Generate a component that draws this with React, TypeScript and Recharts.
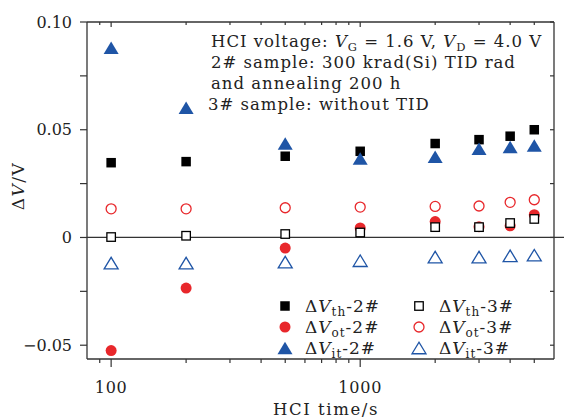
import React from "react"
import { ScatterChart, Scatter, XAxis, YAxis, ReferenceLine } from "recharts"

// HCI stress times (s)
const times = [100, 200, 500, 1000, 2000, 3000, 4000, 5000]

// sample 2# (TID + annealing)
const vth2 = [0.0347, 0.0352, 0.0377, 0.04, 0.0436, 0.0454, 0.047, 0.05]
const vot2 = [-0.0525, -0.0235, -0.0049, 0.0044, 0.0074, 0.005, 0.0054, 0.0106]
const vit2 = [0.088, 0.0602, 0.0436, 0.0366, 0.0375, 0.0412, 0.042, 0.0427]

// sample 3# (no TID)
const vth3 = [0.0002, 0.0008, 0.0016, 0.0023, 0.0048, 0.0048, 0.0067, 0.0086]
const vot3 = [0.0133, 0.0133, 0.0138, 0.0141, 0.0144, 0.0146, 0.0163, 0.0175]
const vit3 = [-0.0119, -0.0119, -0.0114, -0.0108, -0.0091, -0.0091, -0.0085, -0.0082]

const xTicks = [90, 100, 200, 300, 400, 500, 600, 700, 800, 900, 1000, 2000, 3000, 4000, 5000]
const xMajor = [100, 1000]
const yTicks = [-0.05, -0.025, 0, 0.025, 0.05, 0.075, 0.1]
const yLabels: Record<string, string> = { "-0.05": "\u22120.05", "0": "0", "0.05": "0.05", "0.1": "0.10" }

const RED = "#e8272b"
const BLUE = "#1f55a6"
const AXIS = "#333"
const FONT = "DejaVu Serif"

const toPoints = (ys: number[]) => times.map((t, i) => ({ x: t, y: ys[i] }))

type Kind = "square" | "circle" | "triangle"

function Marker({ cx, cy, kind, color, filled }: { cx: number; cy: number; kind: Kind; color: string; filled: boolean }) {
  const fill = filled ? color : "#fff"
  const sw = filled ? 0 : 1.3
  if (kind === "square") {
    const s = filled ? 9.5 : 8.5
    return <rect x={cx - s / 2} y={cy - s / 2} width={s} height={s} fill={fill} stroke={color} strokeWidth={sw} />
  }
  if (kind === "circle") {
    return <circle cx={cx} cy={cy} r={filled ? 5.5 : 5} fill={fill} stroke={color} strokeWidth={sw} />
  }
  const w = filled ? 15 : 14
  const h = filled ? 12.5 : 11.5
  return (
    <polygon
      points={`${cx - w / 2},${cy + h / 2} ${cx + w / 2},${cy + h / 2} ${cx},${cy - h / 2}`}
      fill={fill}
      stroke={color}
      strokeWidth={sw}
    />
  )
}

const shapeOf = (kind: Kind, color: string, filled: boolean) => (p: any) =>
  <Marker cx={p.cx} cy={p.cy} kind={kind} color={color} filled={filled} />

function BottomTick({ x, y, payload }: any) {
  const major = xMajor.includes(payload.value)
  return (
    <g>
      <line x1={x} x2={x} y1={y} y2={y + (major ? 8 : 4)} stroke={AXIS} strokeWidth={1.2} />
      {major && (
        <text x={x} y={y + 34} textAnchor="middle" fontFamily={FONT} fontSize={16} letterSpacing={0.8} fill="#222">
          {payload.value}
        </text>
      )}
    </g>
  )
}

function TopTick({ x, y, payload }: any) {
  const major = xMajor.includes(payload.value)
  return <line x1={x} x2={x} y1={y} y2={y + (major ? 5 : 3)} stroke={AXIS} strokeWidth={1.2} />
}

function LeftTick({ x, y, payload }: any) {
  const label = yLabels[String(payload.value)]
  return (
    <g>
      <line x1={x} x2={x - 7} y1={y} y2={y} stroke={AXIS} strokeWidth={1.2} />
      {label && (
        <text x={x - 15} y={y + 5.5} textAnchor="end" fontFamily={FONT} fontSize={16} fill="#222">
          {label}
        </text>
      )}
    </g>
  )
}

function RightTick({ x, y }: any) {
  return <line x1={x} x2={x - 4} y1={y} y2={y} stroke={AXIS} strokeWidth={1.2} />
}

const legendItems: Array<{ kind: Kind; color: string; filled: boolean; sub: string; tag: string }> = [
  { kind: "square", color: "#000", filled: true, sub: "th", tag: "2#" },
  { kind: "square", color: "#000", filled: false, sub: "th", tag: "3#" },
  { kind: "circle", color: RED, filled: true, sub: "ot", tag: "2#" },
  { kind: "circle", color: RED, filled: false, sub: "ot", tag: "3#" },
  { kind: "triangle", color: BLUE, filled: true, sub: "it", tag: "2#" },
  { kind: "triangle", color: BLUE, filled: false, sub: "it", tag: "3#" },
]

function Overlay() {
  const txt = { fontFamily: FONT, fontSize: 16.5, letterSpacing: 1, fill: "#222" }
  return (
    <svg width={564} height={419} style={{ position: "absolute", left: 0, top: 0, pointerEvents: "none" }}>
      <text x={211} y={47} {...txt}>
        HCI voltage: <tspan fontStyle="italic">V</tspan>
        <tspan dy={4} fontSize={11.5}>G</tspan>
        <tspan dy={-4}> = 1.6 V, </tspan>
        <tspan fontStyle="italic">V</tspan>
        <tspan dy={4} fontSize={11.5}>D</tspan>
        <tspan dy={-4}> = 4.0 V</tspan>
      </text>
      <text x={211} y={68} {...txt}>2# sample: 300 krad(Si) TID rad</text>
      <text x={211} y={89} {...txt}>and annealing 200 h</text>
      <text x={208} y={110} {...txt}>3# sample: without TID</text>
      {legendItems.map((it, i) => {
        const col = i % 2
        const row = Math.floor(i / 2)
        const mx = col === 0 ? 285 : 419
        const my = 306 + row * 21
        return (
          <g key={i}>
            <Marker cx={mx} cy={my} kind={it.kind} color={it.color} filled={it.filled} />
            <text x={mx + 20} y={my + 6} fontFamily={FONT} fontSize={17} letterSpacing={1} fill="#222">
              {"\u0394"}
              <tspan fontStyle="italic">V</tspan>
              <tspan dy={4} fontSize={12}>{it.sub}</tspan>
              <tspan dy={-4}>-{it.tag}</tspan>
            </text>
          </g>
        )
      })}
      <text x={326} y={415} textAnchor="middle" {...txt} fontSize={16.5} letterSpacing={1.6}>HCI time/s</text>
      <text x={0} y={0} transform="translate(24,186) rotate(-90)" textAnchor="middle" {...txt} fontSize={17} letterSpacing={1.5}>
        {"\u0394"}<tspan fontStyle="italic">V</tspan>/V
      </text>
    </svg>
  )
}

export default function App() {
  return (
    <div style={{ position: "absolute", left: 0, top: 0, width: 564, height: 419, background: "#fff" }}>
      <ScatterChart width={564} height={419} margin={{ top: 21, right: 9, bottom: 0, left: 0 }}>
        <XAxis
          xAxisId={0}
          dataKey="x"
          type="number"
          scale="log"
          domain={[80, 6000]}
          allowDataOverflow
          ticks={xTicks}
          interval={0}
          height={60}
          tickSize={0}
          tickMargin={0}
          tickLine={false}
          tick={BottomTick}
          axisLine={{ stroke: AXIS, strokeWidth: 1.3 }}
        />
        <XAxis
          xAxisId="top"
          orientation="top"
          dataKey="x"
          type="number"
          scale="log"
          domain={[80, 6000]}
          allowDataOverflow
          ticks={xTicks}
          interval={0}
          height={1}
          tickSize={0}
          tickMargin={0}
          tickLine={false}
          tick={TopTick}
          axisLine={{ stroke: AXIS, strokeWidth: 1.3 }}
        />
        <YAxis
          yAxisId={0}
          dataKey="y"
          type="number"
          domain={[-0.0564, 0.1]}
          allowDataOverflow
          ticks={yTicks}
          interval={0}
          width={87}
          tickSize={0}
          tickMargin={0}
          tickLine={false}
          tick={LeftTick}
          axisLine={{ stroke: AXIS, strokeWidth: 1.3 }}
        />
        <YAxis
          yAxisId="right"
          orientation="right"
          dataKey="y"
          type="number"
          domain={[-0.0564, 0.1]}
          allowDataOverflow
          ticks={yTicks}
          interval={0}
          width={1}
          tickSize={0}
          tickMargin={0}
          tickLine={false}
          tick={RightTick}
          axisLine={{ stroke: AXIS, strokeWidth: 1.3 }}
        />
        <ReferenceLine
          segment={[{ x: 80, y: 0 }, { x: 7000, y: 0 }]}
          ifOverflow="visible"
          stroke={AXIS}
          strokeWidth={1.3}
        />
        <Scatter data={toPoints(vth2)} shape={shapeOf("square", "#000", true)} isAnimationActive={false} />
        <Scatter data={toPoints(vot2)} shape={shapeOf("circle", RED, true)} isAnimationActive={false} />
        <Scatter data={toPoints(vit2)} shape={shapeOf("triangle", BLUE, true)} isAnimationActive={false} />
        <Scatter data={toPoints(vth3)} shape={shapeOf("square", "#000", false)} isAnimationActive={false} />
        <Scatter data={toPoints(vot3)} shape={shapeOf("circle", RED, false)} isAnimationActive={false} />
        <Scatter data={toPoints(vit3)} shape={shapeOf("triangle", BLUE, false)} isAnimationActive={false} />
        {/* invisible series so the top/right frame axes get drawn */}
        <Scatter
          data={toPoints(vth2)}
          xAxisId="top"
          yAxisId="right"
          shape={() => <g />}
          legendType="none"
          isAnimationActive={false}
        />
      </ScatterChart>
      <Overlay />
    </div>
  )
}
